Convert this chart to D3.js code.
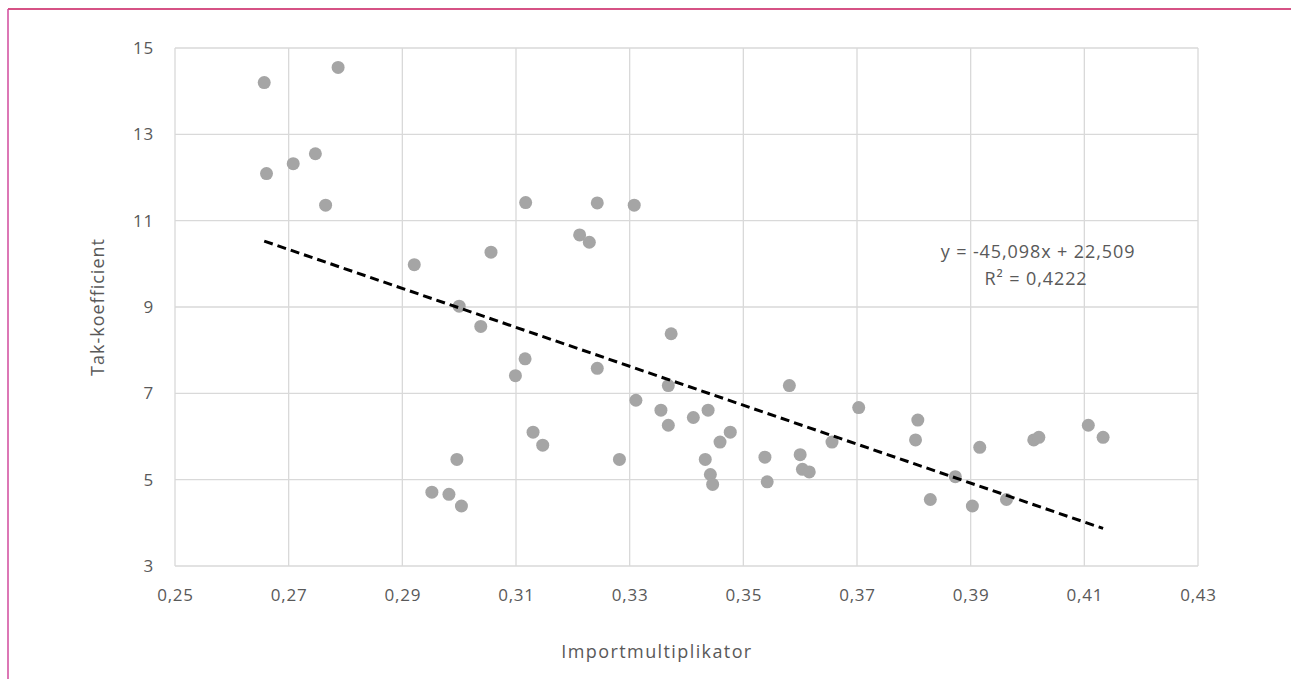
<!DOCTYPE html>
<html>
<head>
<meta charset="utf-8">
<script src="https://cdn.jsdelivr.net/npm/d3@7"></script>
<style>
  body { margin: 0; background: #fff; }
  svg text { font-family: "Open Sans", "Noto Sans", sans-serif; fill: #595959; }
</style>
</head>
<body>
<div id="chart"></div>
<script>
// data
var importMult = [0.2657, 0.2787, 0.2661, 0.2708, 0.2747, 0.2765, 0.3117, 0.2921, 0.3056, 0.3000,
    0.3243, 0.3308, 0.3212, 0.3229, 0.3038, 0.3373, 0.3116, 0.3099, 0.3243, 0.3368,
    0.3581, 0.3311, 0.3355, 0.3438, 0.3412, 0.3368, 0.3477, 0.3459, 0.3130, 0.3147,
    0.2996, 0.3282, 0.3433, 0.3538, 0.3600, 0.3604, 0.3616, 0.3442, 0.3446, 0.3542,
    0.2952, 0.2982, 0.3004, 0.3656, 0.3703, 0.3807, 0.3803, 0.3916, 0.4011, 0.4020,
    0.4107, 0.4133, 0.3873, 0.3829, 0.3903, 0.3963];
var takKoeff = [14.20, 14.55, 12.09, 12.32, 12.55, 11.36, 11.42, 9.98, 10.27, 9.02,
    11.41, 11.36, 10.67, 10.50, 8.55, 8.38, 7.80, 7.41, 7.58, 7.18,
    7.18, 6.84, 6.61, 6.61, 6.44, 6.26, 6.10, 5.87, 6.10, 5.80,
    5.47, 5.47, 5.47, 5.52, 5.58, 5.24, 5.18, 5.12, 4.89, 4.95,
    4.71, 4.66, 4.39, 5.87, 6.67, 6.38, 5.92, 5.75, 5.92, 5.98,
    6.26, 5.98, 5.07, 4.54, 4.39, 4.54];
var xTicks = [0.25, 0.27, 0.29, 0.31, 0.33, 0.35, 0.37, 0.39, 0.41, 0.43];
var yTicks = [3, 5, 7, 9, 11, 13, 15];
var trendSlope = -45.098;
var trendIntercept = 22.509;
var eqLabel = "y = -45,098x + 22,509";
var r2Label = "R\u00B2 = 0,4222";

var W = 1291, H = 679;
var m = { left: 175, right: 1198, top: 48, bottom: 566 };

var svg = d3.select("#chart").append("svg")
    .attr("width", W)
    .attr("height", H);

// outer frame (only top and left visible)
svg.append("line").attr("x1", 8).attr("x2", W).attr("y1", 9).attr("y2", 9)
    .attr("stroke", "#c8185c").attr("stroke-width", 1.5);
svg.append("line").attr("x1", 8).attr("x2", 8).attr("y1", 9).attr("y2", H)
    .attr("stroke", "#d14a9c").attr("stroke-width", 1.5);

var x = d3.scaleLinear().domain([0.25, 0.43]).range([m.left, m.right]);
var y = d3.scaleLinear().domain([3, 15]).range([m.bottom, m.top]);
var fmt = function (d) { return d3.format(".2f")(d).replace(".", ","); };

// gridlines
svg.append("g").selectAll("line").data(xTicks).enter().append("line")
    .attr("x1", function (d) { return x(d); })
    .attr("x2", function (d) { return x(d); })
    .attr("y1", m.top).attr("y2", m.bottom)
    .attr("stroke", "#d9d9d9").attr("stroke-width", 1.3);
svg.append("g").selectAll("line").data(yTicks).enter().append("line")
    .attr("x1", m.left).attr("x2", m.right)
    .attr("y1", function (d) { return y(d); })
    .attr("y2", function (d) { return y(d); })
    .attr("stroke", "#d9d9d9").attr("stroke-width", 1.3);

// axes, ticks only as text
var xAxis = svg.append("g")
    .attr("transform", "translate(0," + m.bottom + ")")
    .call(d3.axisBottom(x).tickValues(xTicks).tickFormat(fmt).tickSize(0).tickPadding(23));
var yAxis = svg.append("g")
    .attr("transform", "translate(" + m.left + ",0)")
    .call(d3.axisLeft(y).tickValues(yTicks).tickFormat(d3.format("d")).tickSize(0).tickPadding(21));
[xAxis, yAxis].forEach(function (a) {
    a.select(".domain").remove();
    a.selectAll("text").style("font-size", "17px").style("letter-spacing", "0.8px")
        .style("font-family", null);
});

// points
svg.append("g").selectAll("circle")
    .data(d3.zip(importMult, takKoeff))
    .enter().append("circle")
    .attr("cx", function (d) { return x(d[0]); })
    .attr("cy", function (d) { return y(d[1]); })
    .attr("r", 6.5)
    .attr("fill", "#a5a5a5");

// linear trendline over data range
var xe = d3.extent(importMult);
svg.append("line")
    .attr("x1", x(xe[0])).attr("y1", y(trendSlope * xe[0] + trendIntercept))
    .attr("x2", x(xe[1])).attr("y2", y(trendSlope * xe[1] + trendIntercept))
    .attr("stroke", "#000").attr("stroke-width", 3)
    .attr("stroke-dasharray", "9,5");

svg.append("text").attr("x", 1038).attr("y", 258)
    .attr("text-anchor", "middle").style("font-size", "18px").style("letter-spacing", "0.9px")
    .text(eqLabel);
svg.append("text").attr("x", 1036).attr("y", 285)
    .attr("text-anchor", "middle").style("font-size", "18px").style("letter-spacing", "0.9px")
    .text(r2Label);

// axis titles
svg.append("text").attr("x", 657).attr("y", 658)
    .attr("text-anchor", "middle").style("font-size", "18px").style("letter-spacing", "1.4px")
    .text("Importmultiplikator");
svg.append("text")
    .attr("transform", "translate(104," + ((m.top + m.bottom) / 2) + ") rotate(-90)")
    .attr("text-anchor", "middle").style("font-size", "18px").style("letter-spacing", "1px")
    .text("Tak-koefficient");
</script>
</body>
</html>
